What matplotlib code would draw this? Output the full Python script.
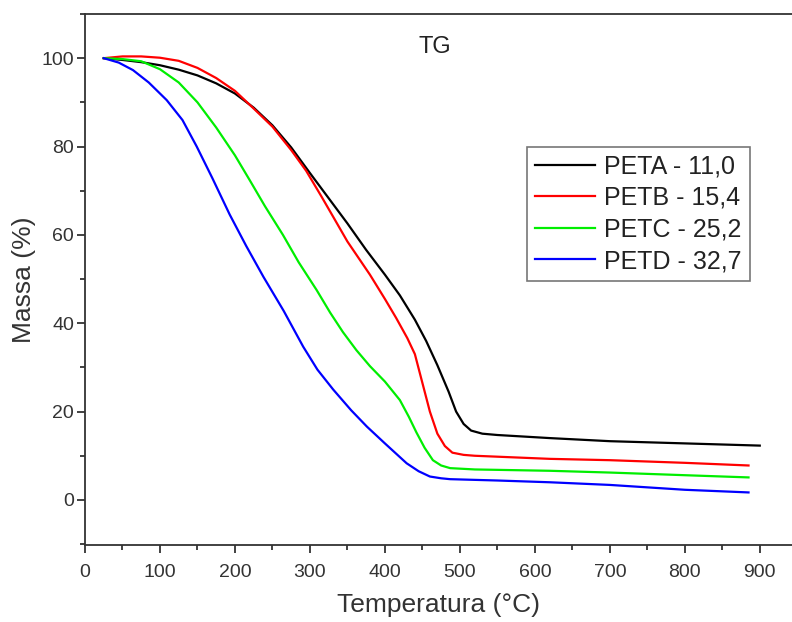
import matplotlib
matplotlib.use("Agg")
import matplotlib.pyplot as plt
from matplotlib.ticker import MultipleLocator

plt.rcParams['font.family'] = ['Liberation Sans', 'DejaVu Sans']

# --- data ---
labels = ["PETA - 11,0", "PETB - 15,4", "PETC - 25,2", "PETD - 32,7"]
colors = ["#000000", "#ff0000", "#00ee00", "#0000ff"]

peta_t = [25, 50, 75, 100, 125, 150, 175, 200, 225, 250, 275, 300, 325, 350, 375, 400, 420, 440,
          455, 470, 485, 495, 505, 515, 530, 550, 620, 700, 800, 900]
peta_m = [100, 99.6, 99.1, 98.4, 97.4, 96.1, 94.3, 92.0, 88.8, 84.8, 79.8, 74.0, 68.3, 62.6, 56.6,
          51.0, 46.3, 40.8, 36.0, 30.5, 24.5, 20.0, 17.2, 15.7, 15.0, 14.7, 14.0, 13.3, 12.8, 12.3]

petb_t = [25, 50, 75, 100, 125, 150, 175, 200, 225, 250, 275, 295, 315, 331, 350, 364, 380, 400,
          415, 430, 440, 450, 460, 470, 480, 490, 505, 520, 620, 700, 800, 885]
petb_m = [100, 100.4, 100.4, 100.1, 99.4, 97.8, 95.5, 92.6, 88.6, 84.5, 79.2, 74.5, 68.8, 64.1,
          58.5, 55.0, 51.0, 45.5, 41.2, 36.6, 33.0, 26.5, 20.0, 15.0, 12.2, 10.7, 10.2, 10.0,
          9.3, 9.0, 8.4, 7.8]

petc_t = [25, 50, 75, 100, 125, 150, 175, 200, 220, 240, 264, 285, 309, 327, 344, 362, 380, 400,
          420, 432, 442, 453, 464, 475, 487, 520, 620, 700, 800, 885]
petc_m = [100, 99.8, 99.3, 97.5, 94.5, 90.0, 84.3, 78.0, 72.3, 66.5, 60.0, 53.8, 47.5, 42.4, 38.0,
          33.9, 30.3, 26.8, 22.6, 18.8, 15.3, 11.8, 9.0, 7.8, 7.2, 6.9, 6.6, 6.2, 5.6, 5.1]

petd_t = [25, 45, 64, 85, 109, 130, 149, 170, 193, 215, 238, 265, 291, 310, 331, 355, 376, 400,
          429, 445, 460, 475, 487, 550, 620, 700, 800, 885]
petd_m = [100, 99.0, 97.3, 94.5, 90.5, 86.0, 80.0, 72.8, 64.6, 57.5, 50.5, 42.8, 34.7, 29.5, 25.0,
          20.3, 16.6, 12.8, 8.3, 6.5, 5.3, 4.9, 4.7, 4.4, 4.0, 3.4, 2.3, 1.7]

series_t = [peta_t, petb_t, petc_t, petd_t]
series_m = [peta_m, petb_m, petc_m, petd_m]

W, H = 792, 622
fig = plt.figure(figsize=(W / 100, H / 100), dpi=100)
ax = fig.add_axes([85 / W, 77 / H, 1 - 85 / W, (545 - 14) / H])

for t, m, c, lab in zip(series_t, series_m, colors, labels):
    ax.plot(t, m, color=c, lw=1.6, label=lab, solid_joinstyle="round")

ax.set_xlim(0, 943)
ax.set_ylim(-10.2, 110)
ax.xaxis.set_major_locator(MultipleLocator(100))
ax.xaxis.set_minor_locator(MultipleLocator(50))
ax.yaxis.set_minor_locator(MultipleLocator(10))
ax.set_yticks([0, 20, 40, 60, 80, 100])

tc = "#333333"
for s in ["left", "bottom", "top"]:
    ax.spines[s].set_color(tc)
    ax.spines[s].set_linewidth(1.3)
ax.spines["right"].set_visible(False)
ax.tick_params(which="both", direction="out", color=tc, width=1.3,
               labelcolor=tc, labelsize=14, top=False, right=False)
ax.tick_params(which="major", length=6)
ax.tick_params(which="minor", length=3.5)
ax.tick_params(axis="x", which="major", pad=8)
ax.tick_params(axis="y", which="major", pad=2)

ax.set_xlabel("Temperatura (°C)", fontsize=19, color=tc, labelpad=8)
ax.set_ylabel("Massa (%)", fontsize=19, color=tc, labelpad=4)

ax.text(467, 102.6, "TG", fontsize=17, color="#222222", ha="center", va="center")

leg = ax.legend(loc="upper left", bbox_to_anchor=(527 / W, 1 - 147 / H),
                bbox_transform=fig.transFigure, borderaxespad=0,
                fontsize=18, frameon=True, fancybox=False,
                handlelength=2.4, handletextpad=0.4, labelspacing=0.3,
                borderpad=0.3)
leg.get_frame().set_edgecolor("#555555")
leg.get_frame().set_linewidth(1.2)
for txt in leg.get_texts():
    txt.set_color("#222222")

fig.savefig("out.png", dpi=100)
